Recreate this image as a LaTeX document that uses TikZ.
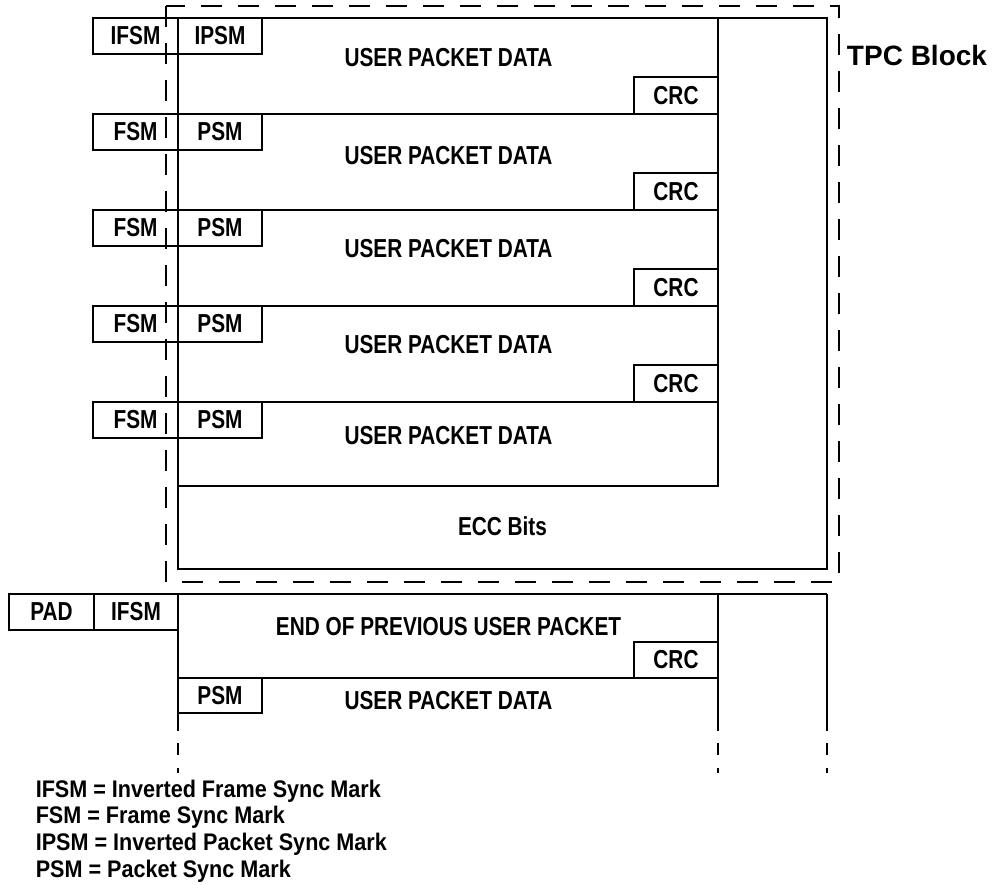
\documentclass[tikz,border=0pt]{standalone}
\usepackage{fontspec}
\setmainfont{Liberation Sans}[FakeStretch=0.8]
\newfontfamily\legfont{Liberation Sans}[FakeStretch=0.9]
\newfontfamily\tpcfont{Liberation Sans}
\begin{document}
\begin{tikzpicture}[x=1pt,y=-1pt,line width=1.5pt,
  lbl/.style={font=\fontsize{26}{30}\selectfont\bfseries, inner sep=0pt, anchor=base},
  leg/.style={font=\legfont\fontsize{24}{28}\selectfont\bfseries, inner sep=0pt, anchor=base west},
  box/.style={draw, line width=1.5pt, inner sep=0pt, outer sep=0pt, anchor=north west,
    minimum height=36pt, font=\fontsize{26}{30}\selectfont\bfseries},
  frame/.style={draw, dash pattern=on 21pt off 16pt}]
\useasboundingbox (0,0) rectangle (995,884);

% TPC block outline
\draw (178,18) rectangle (827,569);
\draw (718,18) -- (718,486) -- (178,486);
\foreach \t in {114,210,306,402} \draw (178,\t) -- (718,\t);
\draw[frame] (166,6) rectangle (839,582);

% row boxes
\node[box, minimum width=85pt] (fs1) at (93,18) {IFSM};
\node[box, minimum width=84pt] (ps1) at (178,18) {IPSM};
\foreach \t/\i in {114/2,210/3,306/4,402/5} {
  \node[box, minimum width=85pt] (fs\i) at (93,\t) {FSM};
  \node[box, minimum width=84pt] (ps\i) at (178,\t) {PSM};
}
\foreach \t/\i in {77/1,173/2,269/3,365/4}
  \node[box, minimum width=84pt, minimum height=37pt] (crc\i) at (634,\t) {CRC};

\node[lbl] (d1) at (448.5,66) {USER PACKET DATA};
\node[lbl] (d2) at (448.5,164) {USER PACKET DATA};
\node[lbl] (d3) at (448.5,257) {USER PACKET DATA};
\node[lbl] (d4) at (448.5,353) {USER PACKET DATA};
\node[lbl] (d5) at (448.5,444) {USER PACKET DATA};
\node[lbl] (ecc) at (502.5,535) {ECC Bits};
\node[font=\tpcfont\fontsize{28}{32}\selectfont\bfseries, inner sep=0pt, anchor=base] (tpc) at (917,65) {TPC Block};

% next frame
\node[box, minimum width=85pt] (pad) at (9,594) {PAD};
\node[box, minimum width=84pt] (fsb) at (94,594) {IFSM};
\draw (178,594) -- (827,594);
\foreach \x in {178,718,827} {
  \draw (\x,594) -- (\x,731);
  \draw (\x,743) -- (\x,755);
  \draw (\x,768) -- (\x,773);
}
\draw (178,678) -- (718,678);
\node[box, minimum width=84pt] (crcb) at (634,642) {CRC};
\node[box, minimum width=84pt, minimum height=35pt] (psb) at (178,678) {PSM};
\node[lbl] (eop) at (448.5,635) {END OF PREVIOUS USER PACKET};
\node[lbl] (db) at (448.5,709) {USER PACKET DATA};

% legend
\node[leg] (l1) at (35,797) {IFSM = Inverted Frame Sync Mark};
\node[leg] (l2) at (35,823.5) {FSM = Frame Sync Mark};
\node[leg] (l3) at (35,850) {IPSM = Inverted Packet Sync Mark};
\node[leg] (l4) at (35,877) {PSM = Packet Sync Mark};
\end{tikzpicture}
\end{document}
